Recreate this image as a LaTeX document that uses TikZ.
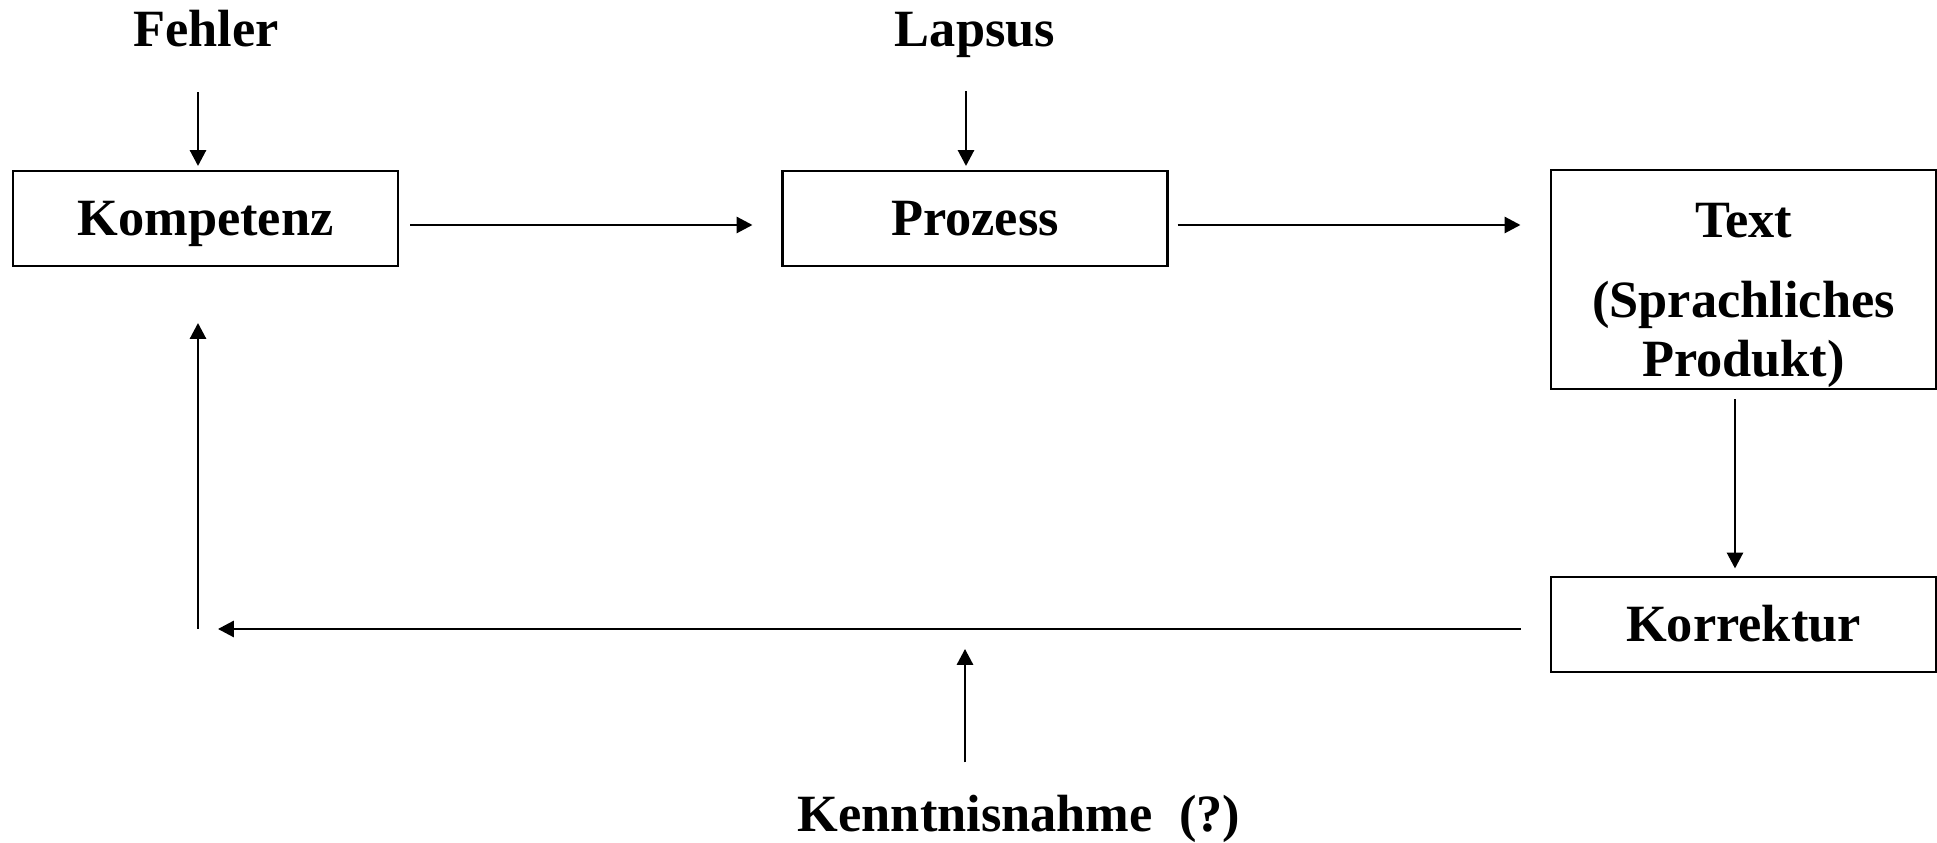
\documentclass[tikz,border=0pt]{standalone}
\usepackage{fontspec}
\setmainfont{Liberation Serif}
\usetikzlibrary{arrows.meta}

\begin{document}
\begin{tikzpicture}[x=0.1mm, y=-0.1mm,
    font=\fontsize{14.9pt}{16.8pt}\selectfont\bfseries,
    kasten/.style={draw, line width=0.6pt, inner sep=0pt, minimum width=38.5mm, minimum height=9.5mm},
    kurz/.style={kasten, text height=9.6pt, text depth=0pt},
    marke/.style={inner sep=0pt, anchor=base},
    pfeil/.style={-{Triangle[length=4.5pt,width=4.6pt]}, line width=0.6pt}]

  \useasboundingbox (0,0) rectangle (1937,843);

  % Draw boxes
  \node[kurz] (komp) at (205.5,218.5) {Kompetenz};
  \node[kurz] (proz) at (975,218.5) {Prozess};
  \node[kasten, text height=19.1pt, text depth=43.2pt] (text) at (1743.5,279.5)
    {\begin{tabular}[t]{@{}c@{}}Text\\[6pt](Sprachliches\\Produkt)\end{tabular}};
  \node[kurz] (korr) at (1743.5,624.5) {Korrektur};

  % Labels outside the boxes
  \node[marke] (fehler) at (206,47) {Fehler};
  \node[marke] (lapsus) at (975,47) {Lapsus};
  \node[marke] (kennt) at (1019,832) {Kenntnisnahme\enspace(?)};

  \coordinate (ecke) at (198,629);
  \coordinate (mitte) at (965,629);

  % Draw arrows from above
  \draw[pfeil, shorten <=4.4mm, shorten >=0.4mm] ([xshift=-0.8mm]fehler.south) -- ([xshift=-0.75mm]komp.north);
  \draw[pfeil, shorten <=3.25mm, shorten >=0.4mm] ([xshift=-0.9mm]lapsus.south) -- ([xshift=-0.9mm]proz.north);

  % Draw main chain
  \draw[pfeil, shorten <=1.1mm, shorten >=2.9mm] ([yshift=-0.65mm]komp.east) -- ([yshift=-0.65mm]proz.west);
  \draw[pfeil, shorten <=0.9mm, shorten >=2.95mm] ([yshift=-0.65mm]proz.east) -- ([yshift=-0.65mm]proz.east -| text.west);
  \draw[pfeil, shorten <=0.9mm, shorten >=0.75mm] ([xshift=-0.85mm]text.south) -- ([xshift=-0.85mm]korr.north);

  % Draw feedback loop
  \draw[pfeil, shorten <=2.9mm, shorten >=2mm] (korr.west |- ecke) -- (ecke);
  \draw[pfeil, shorten >=5.6mm] (ecke) -- (ecke |- komp.south);
  \draw[pfeil, shorten <=3.26mm, shorten >=2mm] (kennt.north -| mitte) -- (mitte);
\end{tikzpicture}
\end{document}
